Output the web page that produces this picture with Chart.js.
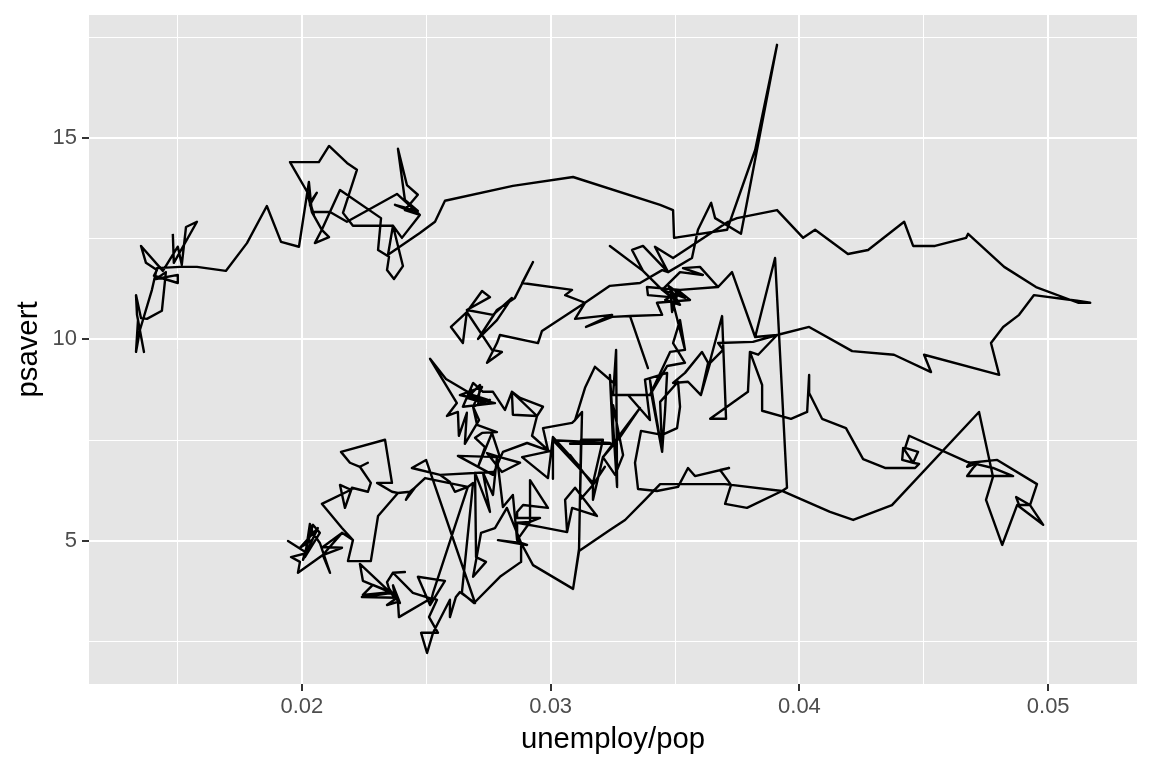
<!DOCTYPE html>
<html>
<head>
<meta charset="utf-8">
<style>
  html, body { margin: 0; padding: 0; background: #fff; }
  #wrap { width: 1152px; height: 768px; }
</style>
<script src="https://cdn.jsdelivr.net/npm/chart.js@4"></script>
</head>
<body>
<div id="wrap"><canvas id="wykr"></canvas></div>
<script>
const unemployPop = [
  .01481,.01485,.01578,.01534,.01517,.01501,.01441,.01353,.01373,.01417,
  .01405,.01501,.01501,.01413,.01453,.01437,.01377,.01353,.01333,.01337,
  .01365,.01341,.01333,.01349,.01397,.01417,.01509,.01578,.01694,.01779,
  .01859,.01916,.01988,.02028,.0204,.02024,.02048,.02032,.0206,.0204,.01952,.02068,.02109,
  .02181,.02221,.02165,.02205,.02366,.02406,.0237,.02342,.0235,.02306,
  .02318,.02153,.0208,.02109,.02052,.0208,.0204,.02113,.02181,.02382,
  .02474,.02374,.02466,.02414,.02386,.02422,.02466,.02414,.02474,.02402,
  .02366,.02346,.02474,.02535,.02575,.02848,.0309,.0344,.03492,.03496,
  .03709,.03822,.0391,.03765,.03661,.03645,.03592,.03568,.03472,.03448,
  .03359,.03238,.03138,.03058,.03086,.02885,.02929,.02856,.02784,.02708,
  .02784,.02844,.02768,.02663,.02756,.02724,.02663,.02599,.02647,.02663,
  .02764,.02804,.02744,.02784,.02796,.02949,.02965,.03138,.03098,.03247,
  .03142,.03247,.03319,.03391,.03319,.03448,.03427,.0356,.0352,.0348,
  .03391,.03387,.0352,.03673,.036,.03532,.03612,.0352,.03448,
  .035,.03472,.0352,.0346,.03512,.03488,.0348,.0354,.03448,.03371,
  .03238,.03371,.03327,.03371,.03472,.03419,.03492,.03713,.03749,.0391,
  .04015,.04063,.04195,.04276,.04421,.04457,.04545,.0467,.04678,.04823,
  .04951,.0512,.05169,.05116,.04943,.04883,.04819,.0477,.04803,.04501,
  .04529,.0438,.04212,.04039,.0391,.03813,.03673,.03693,.03641,.03604,
  .03633,.03608,.0354,.03492,.03552,.03604,.03689,.03705,.03641,.03793,
  .03801,.03834,.0391,.03822,.03729,.03673,.03729,.03822,.03902,.0395,
  .0393,.03789,.03701,.03725,.03681,.03717,.0358,.03552,.03512,.03427,
  .03351,.03339,.03363,.03448,.03508,.0352,.03512,.0344,.03448,.03407,
  .03399,.03448,.0346,.03468,.03379,.03399,.03311,.03251,.03399,.03468,
  .0354,.03492,.0352,.0354,.03492,.0354,.0348,.03399,.03251,.03263,
  .03267,.03238,.03251,.03078,.03251,.03251,.03291,.03259,.0321,.03279,
  .03359,.0321,.0317,.0317,.03218,.0317,.03078,.0317,.03118,.03126,
  .03098,.03138,.03178,.03263,.03178,.03138,.03098,.03086,.02969,.02989,
  .02925,.02945,.02848,.02844,.02877,.02969,.02945,.02844,.02816,.02768,
  .02728,.02688,.02647,.02776,.02635,.02724,.02688,.02712,.02655,.02663,
  .02631,.02627,.02583,.02623,.02515,.02579,.02688,.02748,
  .02676,.02736,.02663,.02716,.02708,.02756,.02688,.02704,
  .02784,.02724,.02696,.02736,.02708,.02764,.02796,.02744,.02804,.02877,
  .02796,.02627,.02768,.02808,.02905,.02997,.02885,.02989,.03009,.03118,
  .03009,.03238,.03009,.03009,.03009,.0317,.0321,.03122,.03114,.0309,
  .02929,.02881,.02905,.02788,.02881,.02824,.02776,.0272,.02688,.0274,
  .027,.02696,.02756,.02728,.02768,.02784,.02808,.02848,.02865,.02917,
  .02917,.02989,.02889,.02865,.02865,.02957,.02917,.02865,.02957,.03066,
  .03058,.03098,.03186,.03086,.03066,.02957,.02865,.02865,.02881,.02881,
  .02796,.02692,.02643,.02688,.02667,.02615,.02595,.02555,.02768,.02555,
  .02442,.02499,.02696,.02635,.02619,.02595,.02595,.02527,.02503,.02479,
  .02547,.02511,.02543,.02523,.0239,.02386,.02342,.02382,.02241,.02366,
  .02285,.02245,.02354,.02245,.02233,.02354,.02394,.02366,.02374,.0235,.02342,.02366,.02414,
  .02366,.02446,.02523,.02515,.02466,.02575,.02515,.02527,.02667,.02495,
  .02454,.02418,.02434,.02386,.02306,.02277,.02185,.02205,.02161,.0208,
  .02197,.02153,.02173,.02201,.02265,.02277,.02233,.02265,.02233,.02193,
  .02157,.02334,.02362,.02302,.02362,.02386,.02306,.02277,.02185,.02205,.02161,
  .02084,.02161,.02084,.02113,.02072,.02044,.02032,.02012,.02072,
  .02044,.02004,.02064,.01992,.0204,.0202,
  .01944,.0202,.01956,.01992,.01984,.02084,.02161,.02205,.02185,.02277,
  .02306,.02386,.02434,.02454,.02495,.02667,.02688,.02643,.02692,.02796,
  .02881,.02881,.02929,.0309,.03114,.03238,.03299,.03379,.0344,
  .03701,.0393,.04123,.04216,.04372,.04722,.04778,.0475,.04815,.04875,
  .0498,.04927,.04871,.04883,.04927,.04955,.04795,.04686,.04674,.04718,
  .04698,.04674,.04859,.04778,.04674,.04441,.04425,.04477,.04457,.04413,
  .04417,.04457,.04481,.04465,.04344,.04256,.04187,.04091,.04039,.04039,
  .04031,.03966,.0385,.0385,.03801
];
const psavert = [
  12.62,11.9,12.92,12.79,11.85,12.3,11.7,12.32,11.9,11.72,
  11.58,11.4,11.6,11.5,11.67,10.71,10.51,10.53,11.1,10.61,
  9.69,10.48,9.69,10.24,11.23,11.77,11.8,11.8,11.7,12.39,
  13.31,12.42,12.3,13.91,13.16,13.59,13.09,13.34,13.64,13.46,14.4,14.4,14.8,
  14.38,14.21,13.14,12.82,12.82,11.82,11.5,11.72,12.05,12.22,
  13.01,13.71,12.72,12.54,12.39,12.72,13.16,13.16,12.92,13.61,
  13.09,13.34,13.19,13.46,14.73,13.83,13.59,13.21,13.09,12.52,
  12.82,12.1,12.64,12.92,13.44,13.81,14.03,13.34,13.21,12.52,
  12.72,14.7,17.31,12.62,13.01,13.39,12.72,12.02,11.67,11.72,
  11.4,11.33,10.91,11.1,11.23,11.4,11.92,11.03,10.73,10.01,
  10.48,11.03,10.61,10.73,11.05,11.2,10.68,10.31,9.91,10.68,
  9.74,9.69,9.42,9.91,10.11,9.91,10.21,10.91,10.51,10.61,
  10.31,10.56,10.58,9.29,10.58,10.61,10.91,10.98,11.18,11.05,
  11.1,11.3,11.23,11.3,11.8,11.77,11.6,11.67,11.23,
  10.98,11.35,10.86,10.98,11.18,10.68,11.3,11.03,11.23,11.7,
  12.32,11.7,12.22,12.32,11.67,12.3,12.02,12.92,13.01,13.21,
  12.52,12.72,12.12,12.22,12.92,12.32,12.32,12.52,12.62,11.8,
  11.3,10.91,10.91,10.96,11.1,10.61,10.31,9.91,9.12,9.62,
  9.19,9.62,9.71,10.31,10.11,9.94,9.91,9.74,9.42,8.62,
  9.42,9.69,9.17,8.92,8.95,8.62,10.58,8.03,8.03,8.7,
  9.69,9.62,10.11,10.06,11.67,11.3,11.67,10.06,12.02,6.32,
  6.24,5.82,5.92,6.39,6.76,6.81,6.61,6.81,6.34,6.24,
  6.29,6.94,7.73,7.63,7.8,8.33,8.95,8.45,7.21,8.57,
  9.0,7.21,8.25,9.17,9.0,8.0,8.62,8.62,8.62,9.34,
  9.42,9.91,10.48,9.74,10.91,9.74,9.69,8.62,8.62,9.74,
  6.34,9.12,7.41,7.41,7.41,8.37,7.13,6.64,7.08,7.58,
  8.3,7.08,6.02,6.39,6.84,6.39,7.13,6.39,6.02,8.2,
  8.0,8.8,9.32,8.87,9.32,8.8,8.0,7.93,7.8,7.26,
  7.61,8.1,8.13,8.7,8.55,8.33,8.1,8.7,8.25,8.7,
  8.7,8.92,8.33,8.42,8.62,8.82,8.33,8.0,7.41,8.18,
  7.61,8.2,8.1,8.42,9.52,9.02,8.62,8.5,
  8.62,8.42,8.55,8.87,8.37,8.5,8.33,7.88,
  7.7,7.68,7.56,7.33,6.84,7.68,7.08,7.18,6.71,6.94,
  7.08,7.11,6.64,7.21,7.43,7.23,7.08,6.56,7.58,6.84,
  7.5,7.43,7.5,6.54,7.5,6.44,7.51,7.51,4.8,3.81,
  4.4,4.95,4.9,5.02,4.95,5.82,5.32,5.2,4.11,4.48,
  4.6,6.69,5.72,6.69,6.14,7.08,5.84,6.14,5.02,5.47,
  6.51,5.82,5.89,5.72,5.57,5.57,5.47,5.45,5.35,5.22,
  6.02,6.32,5.62,5.82,5.22,5.35,5.45,5.02,4.95,4.48,
  4.11,3.46,3.71,6.44,6.34,6.22,6.46,6.64,6.71,6.64,
  6.81,7.01,3.46,3.73,3.61,3.11,3.54,2.72,2.22,2.72,
  2.72,3.11,3.54,3.59,3.11,3.49,3.41,3.59,3.61,3.71,
  3.91,3.66,3.73,4.01,4.43,3.73,3.46,3.9,3.6,3.82,3.98,4.21,4.23,
  4.21,3.71,3.56,3.41,4.11,4.01,3.41,3.71,6.34,6.56,
  6.32,6.02,6.22,6.19,5.62,4.5,4.5,5.02,5.32,5.92,
  6.27,6.39,5.82,6.32,6.22,6.44,6.84,6.94,6.84,6.94,
  7.21,7.51,6.44,6.44,6.22,6.19,5.62,4.5,4.5,5.02,5.2,
  4.85,4.83,4.65,4.21,4.95,5.2,5.42,4.6,5.2,
  5.4,4.53,5.32,4.83,5.02,4.7,
  5.0,4.7,4.6,4.48,4.21,4.65,5.2,5.02,4.5,4.5,
  5.62,6.19,6.22,6.32,6.56,6.34,6.44,3.71,3.46,4.11,
  4.48,4.95,4.4,3.81,4.75,5.27,5.52,6.02,6.41,
  6.41,6.24,5.72,5.52,5.89,8.2,6.59,6.02,4.9,5.89,
  5.4,5.89,6.09,5.89,5.89,6.41,7.01,6.94,6.84,6.94,
  6.81,6.61,6.61,6.81,6.96,7.61,7.31,7.21,6.94,7.01,
  7.31,6.94,6.91,6.81,6.81,7.03,7.8,8.03,8.67,9.12,
  8.2,8.03,8.23,8.87,9.69
];

const xMajor = [0.02, 0.03, 0.04, 0.05];
const xMinor = [0.015, 0.025, 0.035, 0.045];
const yMajor = [5, 10, 15];
const yMinor = [2.5, 7.5, 12.5, 17.5];

const points = [];
unemployPop.forEach((v, i) => {
  points.push({ x: v, y: psavert[i] });
});

// grey panel behind the grid
const panelBg = {
  id: 'panelBg',
  beforeDraw(chart) {
    const a = chart.chartArea;
    chart.ctx.fillStyle = '#E5E5E5';
    chart.ctx.fillRect(a.left, a.top, a.width, a.height);
  }
};

function gridOpts(major) {
  return {
    color: '#FFFFFF',
    lineWidth: c => major.includes(c.tick.value) ? 2 : 1,
    tickColor: c => major.includes(c.tick.value) ? '#333333' : 'rgba(0,0,0,0)',
    tickWidth: 2,
    tickLength: 7,
    drawOnChartArea: true
  };
}

new Chart(document.getElementById('wykr'), {
  type: 'scatter',
  data: {
    datasets: [{
      data: points,
      showLine: true,
      borderColor: '#000000',
      borderWidth: 2.4,
      borderJoinStyle: 'round',
      pointRadius: 0,
      tension: 0
    }]
  },
  options: {
    responsive: true,
    maintainAspectRatio: false,
    animation: false,
    layout: { padding: { top: 15, right: 15, left: 0, bottom: 0 } },
    plugins: { legend: { display: false }, tooltip: { enabled: false } },
    scales: {
      x: {
        type: 'linear',
        min: 0.01144,
        max: 0.05357,
        border: { display: false },
        grid: gridOpts(xMajor),
        afterBuildTicks: s => { s.ticks = xMinor.concat(xMajor).sort().map(v => ({ value: v })); },
        afterFit: s => { s.height = 84; s.paddingLeft = 0; s.paddingRight = 0; },
        ticks: {
          autoSkip: false,
          maxRotation: 0,
          padding: 3,
          color: '#4D4D4D',
          font: { family: 'Liberation Sans', size: 22 },
          callback: v => xMajor.includes(v) ? v.toFixed(2) : ''
        },
        title: {
          display: true,
          text: 'unemploy/pop',
          color: '#000000',
          font: { family: 'Liberation Sans', size: 29.3 },
          padding: { top: 0, bottom: 11 }
        }
      },
      y: {
        type: 'linear',
        min: 1.45,
        max: 18.05,
        border: { display: false },
        grid: gridOpts(yMajor),
        afterBuildTicks: s => { s.ticks = yMinor.concat(yMajor).sort((a, b) => a - b).map(v => ({ value: v })); },
        afterFit: s => { s.width = 89; s.paddingTop = 0; s.paddingBottom = 0; },
        ticks: {
          autoSkip: false,
          padding: 5,
          color: '#4D4D4D',
          font: { family: 'Liberation Sans', size: 22 },
          callback: v => yMajor.includes(v) ? String(v) : ''
        },
        title: {
          display: true,
          text: 'psavert',
          color: '#000000',
          font: { family: 'Liberation Sans', size: 29.3 },
          padding: { top: 11, bottom: 0 }
        }
      }
    }
  },
  plugins: [panelBg]
});
</script>
</body>
</html>
